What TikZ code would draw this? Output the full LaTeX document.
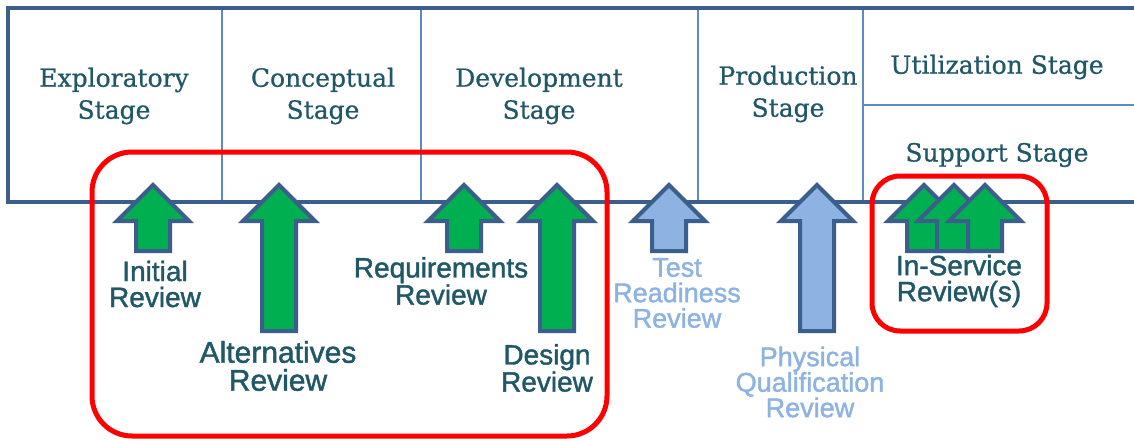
\documentclass[tikz,border=0pt]{standalone}
\usepackage{fontspec}
\setmainfont{Liberation Sans}
\newfontfamily\revfont[FakeBold=1.5]{Liberation Sans}
\newfontfamily\stagefont[FakeBold=0.8]{DejaVu Serif}
\definecolor{frameblue}{RGB}{59,94,140}
\definecolor{divblue}{RGB}{91,139,198}
\definecolor{txtdark}{RGB}{33,88,104}
\definecolor{lightblue}{RGB}{141,179,226}
\definecolor{arrgreen}{RGB}{0,176,80}
\definecolor{boxred}{RGB}{255,0,0}
\newcommand\revarrow[3]{%
  \draw[arrowline, fill=#3] (#1,185) -- (#1+36,221) -- (#1+17,221) -- (#1+17,#2)
    -- (#1-17,#2) -- (#1-17,221) -- (#1-36,221) -- cycle;}
\begin{document}
\begin{tikzpicture}[x=1pt,y=-1pt,
  frameline/.style={draw=frameblue, line width=3.5pt},
  divline/.style={draw=divblue, line width=2.2pt},
  redbox/.style={draw=boxred, line width=5pt},
  arrowline/.style={draw=frameblue, line width=4pt, line join=miter},
  stagetext/.style={font=\stagefont\fontsize{25}{32}\selectfont, text=txtdark, align=center, inner sep=0pt},
  review/.style={font=\revfont\fontsize{28}{26}\selectfont, text=txtdark, align=center, inner sep=0pt},
  reviewbig/.style={review, font=\revfont\fontsize{30}{28}\selectfont},
  reviewlight/.style={review, font=\revfont\fontsize{27}{25.5}\selectfont, text=lightblue}]
\useasboundingbox (0,0) rectangle (1134,441);
% dividers
\draw[divline] (222,8) -- (222,202);
\draw[divline] (421,8) -- (421,202);
\draw[divline] (698,8) -- (698,202);
\draw[divline] (863,8) -- (863,202);
\draw[divline] (863,105) -- (1134,105);
% frame
\draw[frameline] (1136,8) -- (8,8) -- (8,202) -- (1136,202);
% stage texts
\node[stagetext] (expl) at (114,96) {Exploratory\\Stage};
\node[stagetext] (conc) at (323,96) {Conceptual\\Stage};
\node[stagetext] (dev) at (539,96) {Development\\Stage};
\node[stagetext] (prod) at (788,94) {Production\\Stage};
\node[stagetext] (util) at (997,67) {Utilization Stage};
\node[stagetext] (supp) at (997,155) {Support Stage};
% red boxes
\draw[redbox, rounded corners=40pt] (92,152) rectangle (607,436);
\draw[redbox, rounded corners=28pt] (872,176) rectangle (1047,331);
% arrows
\revarrow{153}{251}{arrgreen}
\revarrow{279}{331}{arrgreen}
\revarrow{464}{251}{arrgreen}
\revarrow{557}{331}{arrgreen}
\revarrow{669}{251}{lightblue}
\revarrow{817}{331}{lightblue}
\revarrow{924}{251}{arrgreen}
\revarrow{954}{251}{arrgreen}
\revarrow{985}{251}{arrgreen}
% review labels
\node[review] (init) at (155,284) {Initial\\Review};
\node[reviewbig] (alt) at (278,366) {Alternatives\\Review};
\node[review] (req) at (441,281) {Requirements\\Review};
\node[review] (des) at (547,368) {Design\\Review};
\node[reviewlight] (test) at (677,293) {Test\\Readiness\\Review};
\node[reviewlight] (phys) at (810,382) {Physical\\Qualification\\Review};
\node[review] (insv) at (959,281) {In-Service\\Review(s)};
\end{tikzpicture}
\end{document}
